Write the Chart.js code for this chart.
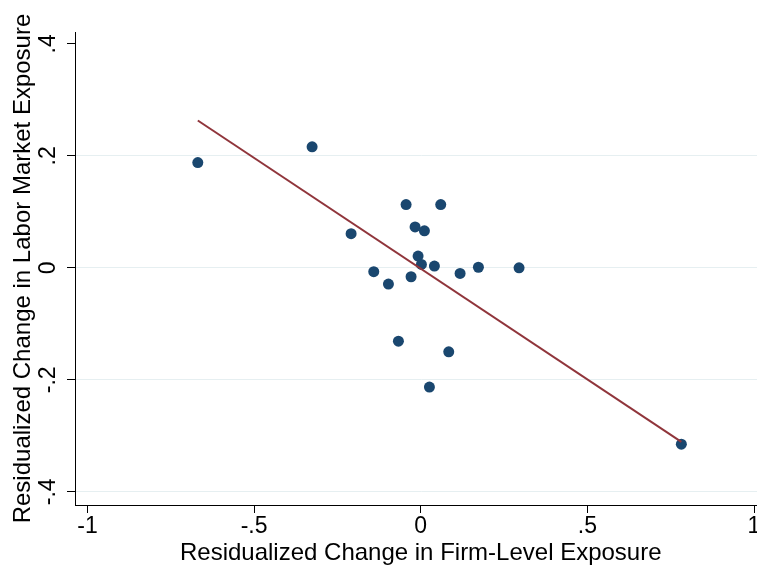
<!DOCTYPE html>
<html>
<head>
<meta charset="utf-8">
<script src="https://cdn.jsdelivr.net/npm/chart.js@4"></script>
<style>
  html, body { margin: 0; padding: 0; background: #fff; overflow: hidden; }
  canvas { display: block; }
</style>
</head>
<body>
<canvas id="myChart" width="772" height="568"></canvas>
<script>
// residualized changes, one point per unit
const firmExposure = [-0.669, -0.326, -0.209, -0.141, -0.097, -0.067, -0.044, -0.029, -0.017, -0.008,
  0.002, 0.011, 0.026, 0.041, 0.060, 0.084, 0.118, 0.173, 0.295, 0.782];
const laborExposure = [0.188, 0.216, 0.061, -0.007, -0.029, -0.131, 0.113, -0.016, 0.073, 0.021,
  0.006, 0.066, -0.213, 0.003, 0.113, -0.150, -0.010, 0.001, 0.000, -0.315];

// linear fit endpoints
const fitX = [-0.669, 0.782];
const fitY = [0.263, -0.311];

const xTicks = [-1, -0.5, 0, 0.5, 1];
const xTickLabels = ["-1", "-.5", "0", ".5", "1"];
const yTicks = [-0.4, -0.2, 0, 0.2, 0.4];
const yTickLabels = ["-.4", "-.2", "0", ".2", ".4"];

const points = firmExposure.map((x, i) => ({ x: x, y: laborExposure[i] }));
const fitLine = fitX.map((x, i) => ({ x: x, y: fitY[i] }));

const font = "'Liberation Sans', Arial, sans-serif";

const ctx = document.getElementById("myChart");

new Chart(ctx, {
  type: "scatter",
  data: {
    datasets: [
      {
        type: "line",
        label: "Fitted values",
        data: fitLine,
        borderColor: "#90353b",
        borderWidth: 2,
        pointRadius: 0,
        fill: false,
        order: 0,
      },
      {
        label: "Observations",
        data: points,
        backgroundColor: "#1a476f",
        borderWidth: 0,
        pointRadius: 5.5,
        order: 1,
      },
    ],
  },
  options: {
    responsive: false,
    animation: false,
    devicePixelRatio: 1,
    layout: { padding: { top: 32, right: 2, bottom: 0, left: 0 } },
    plugins: {
      legend: { display: false },
      tooltip: { enabled: false },
    },
    scales: {
      x: {
        type: "linear",
        min: -1.0375,
        max: 1.0375,
        bounds: "data",
        afterBuildTicks: (scale) => {
          scale.ticks = xTicks.map((v) => ({ value: v }));
        },
        afterFit: (scale) => {
          scale.height = 63;
        },
        border: { color: "#000", width: 1 },
        grid: {
          drawOnChartArea: false,
          drawTicks: true,
          tickLength: 8,
          tickColor: "#000",
          tickWidth: 1,
        },
        ticks: {
          autoSkip: false,
          maxRotation: 0,
          padding: 0,
          color: "#000",
          font: { family: font, size: 23 },
          callback: (v, i) => xTickLabels[i],
        },
        title: {
          display: true,
          text: "Residualized Change in Firm-Level Exposure",
          color: "#000",
          font: { family: font, size: 24 },
          padding: { top: 0, bottom: 0 },
        },
      },
      y: {
        type: "linear",
        min: -0.4236,
        max: 0.4211,
        bounds: "data",
        afterBuildTicks: (scale) => {
          scale.ticks = yTicks.map((v) => ({ value: v }));
        },
        afterFit: (scale) => {
          scale.width = 75;
        },
        border: { color: "#000", width: 1 },
        grid: {
          color: (c) => (c.tick && c.tick.value > 0.39 ? "rgba(0,0,0,0)" : "#e6eff1"),
          lineWidth: 1,
          drawTicks: true,
          tickLength: 8,
          tickColor: "#000",
          tickWidth: 1,
        },
        ticks: {
          autoSkip: false,
          minRotation: 90,
          maxRotation: 90,
          crossAlign: "center",
          padding: 5,
          color: "#000",
          font: { family: font, size: 23 },
          callback: (v, i) => yTickLabels[i],
        },
        title: {
          display: true,
          text: "Residualized Change in Labor Market Exposure",
          color: "#000",
          font: { family: font, size: 24 },
          padding: { top: 9, bottom: 0 },
        },
      },
    },
  },
});
</script>
</body>
</html>
